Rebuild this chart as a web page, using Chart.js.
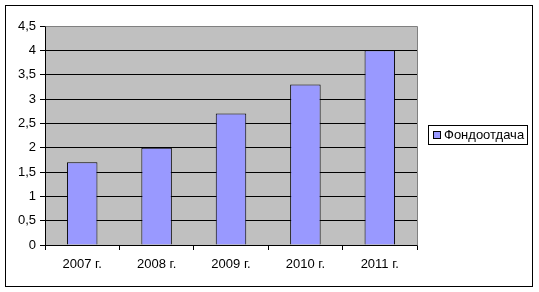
<!DOCTYPE html>
<html lang="ru">
<head>
<meta charset="UTF-8">
<title>Фондоотдача</title>
<script src="https://cdn.jsdelivr.net/npm/chart.js"></script>
<style>
  html, body { margin: 0; padding: 0; background: #fff; }
  #wrap { width: 539px; height: 292px; }
</style>
</head>
<body>
<div id="wrap"><canvas id="chart" width="539" height="292"></canvas></div>
<script>
const years = ['2007 г.', '2008 г.', '2009 г.', '2010 г.', '2011 г.'];
const fondootdacha = [1.7, 2.0, 2.7, 3.3, 4.0];
const seriesName = 'Фондоотдача';
const yMax = 4.5;
const yStep = 0.5;

const FONT = 'Arial, "Liberation Sans", sans-serif';
const BAR_FILL = '#9999FF';

// plot background, outer frame, legend (Excel-style)
const excelLook = {
  id: 'excelLook',
  beforeDraw(chart) {
    const { ctx, chartArea: a } = chart;
    ctx.save();
    ctx.fillStyle = '#fff';
    ctx.fillRect(0, 0, chart.width, chart.height);
    ctx.fillStyle = '#C0C0C0';
    ctx.fillRect(a.left, a.top, a.right - a.left, a.bottom - a.top);
    ctx.restore();
  },
  afterDraw(chart) {
    const { ctx, chartArea: a } = chart;
    ctx.save();
    // outer frame
    ctx.strokeStyle = '#000';
    ctx.lineWidth = 1;
    ctx.strokeRect(5.5, 5.5, 527, 281);
    // plot border top/right
    ctx.strokeStyle = '#808080';
    ctx.beginPath();
    ctx.moveTo(Math.round(a.left) + 0.5, Math.round(a.top) + 0.5);
    ctx.lineTo(Math.round(a.right) + 0.5, Math.round(a.top) + 0.5);
    ctx.lineTo(Math.round(a.right) + 0.5, Math.round(a.bottom) + 0.5);
    ctx.stroke();
    // legend
    const ds = chart.data.datasets[0];
    ctx.fillStyle = '#fff';
    ctx.fillRect(428.5, 125.5, 99, 19);
    ctx.strokeStyle = '#000';
    ctx.strokeRect(428.5, 125.5, 99, 19);
    ctx.fillStyle = ds.backgroundColor;
    ctx.fillRect(433.5, 131.5, 7, 7);
    ctx.strokeRect(433.5, 131.5, 7, 7);
    ctx.fillStyle = '#000';
    ctx.font = '13px ' + FONT;
    ctx.textBaseline = 'middle';
    ctx.textAlign = 'left';
    ctx.fillText(ds.label, 444, 135.5);
    ctx.restore();
  }
};

new Chart(document.getElementById('chart'), {
  type: 'bar',
  data: {
    labels: years,
    datasets: [{
      label: seriesName,
      data: fondootdacha,
      backgroundColor: BAR_FILL,
      borderColor: '#000',
      borderWidth: 1,
      barPercentage: 0.41,
      categoryPercentage: 1
    }]
  },
  options: {
    responsive: false,
    animation: false,
    layout: { padding: { left: 0, right: 122, top: 26, bottom: 0 } },
    plugins: {
      legend: { display: false },
      tooltip: { enabled: false }
    },
    scales: {
      x: {
        afterFit: s => { s.height = 47; },
        grid: { offset: true, drawOnChartArea: false, color: '#000', tickLength: 5 },
        border: { color: '#000' },
        ticks: { color: '#000', font: { family: FONT, size: 13 }, padding: 7, maxRotation: 0 }
      },
      y: {
        min: 0,
        max: yMax,
        afterFit: s => { s.width = 45; },
        grid: { color: '#000', tickLength: 5 },
        border: { color: '#000' },
        ticks: {
          stepSize: yStep,
          color: '#000',
          padding: 4,
          font: { family: FONT, size: 13 },
          callback: v => String(v).replace('.', ',')
        }
      }
    }
  },
  plugins: [excelLook]
});
</script>
</body>
</html>
